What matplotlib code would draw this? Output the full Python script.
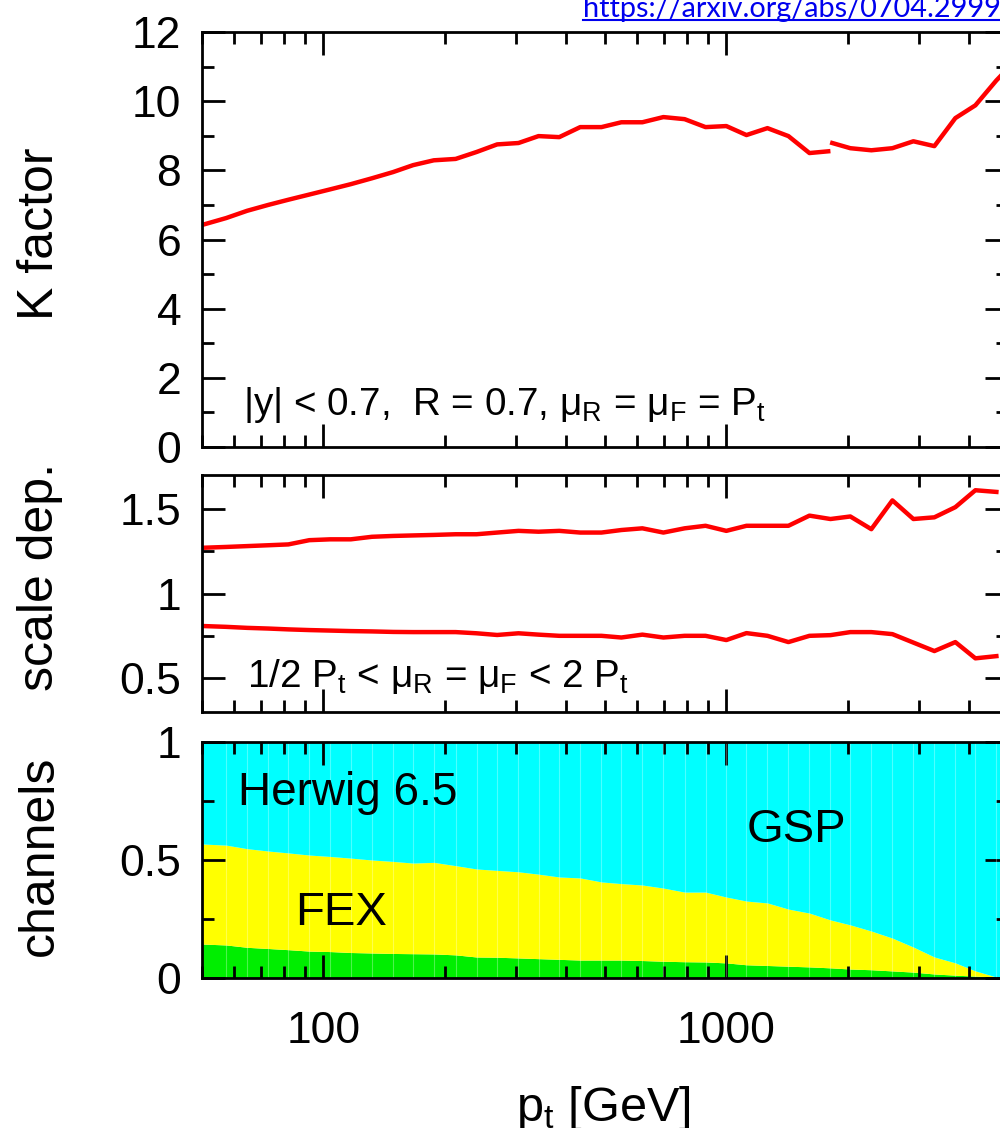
import numpy as np
import matplotlib
matplotlib.use("Agg")
import matplotlib.pyplot as plt
from matplotlib.ticker import FixedLocator, FixedFormatter, LogLocator, NullFormatter
from matplotlib.lines import Line2D

plt.rcParams['font.family'] = ['Liberation Sans', 'DejaVu Sans']
plt.rcParams['mathtext.fontset'] = 'custom'
plt.rcParams['mathtext.rm'] = 'Liberation Sans'
plt.rcParams['mathtext.it'] = 'Liberation Sans'
plt.rcParams['mathtext.sf'] = 'Liberation Sans'

# common pt binning [GeV]
pt = [50, 57.4, 64.7, 73, 81.9, 92.3, 104, 117, 132, 149, 167, 188, 213, 240,
      270, 305, 342, 385, 434, 490, 549, 619, 698, 788, 888, 1000, 1122, 1265,
      1426, 1608, 1813, 2031, 2290, 2583, 2912, 3283, 3701, 4150, 4679]

# K factor (NLO/LO), one missing bin near 1.8 TeV
kfac_pt = [50, 57.4, 64.7, 73, 81.9, 92.3, 104, 117, 132, 149, 167, 188, 213,
           240, 270, 305, 342, 385, 434, 490, 549, 619, 698, 788, 888, 1000,
           1122, 1265, 1426, 1608, 1790, np.nan, 1832, 2031, 2290, 2583, 2912,
           3283, 3701, 4150, 4679, 5000]
kfac = [6.42, 6.62, 6.83, 7.0, 7.15, 7.30, 7.45, 7.60, 7.77, 7.95, 8.15, 8.29,
        8.33, 8.53, 8.75, 8.79, 8.99, 8.96, 9.25, 9.25, 9.39, 9.39, 9.54, 9.48,
        9.25, 9.28, 9.02, 9.22, 8.99, 8.50, 8.55, np.nan, 8.79, 8.64, 8.58,
        8.64, 8.84, 8.70, 9.51, 9.88, 10.6, 10.95]

# scale variation band, 1/2 Pt .. 2 Pt
scale_up = [1.27, 1.275, 1.28, 1.285, 1.29, 1.315, 1.32, 1.32, 1.335, 1.34,
            1.343, 1.346, 1.35, 1.35, 1.36, 1.37, 1.365, 1.37, 1.36, 1.36,
            1.375, 1.385, 1.36, 1.385, 1.40, 1.37, 1.40, 1.40, 1.40, 1.46,
            1.44, 1.455, 1.38, 1.55, 1.44, 1.45, 1.51, 1.61, 1.60]
scale_down = [0.808, 0.803, 0.797, 0.793, 0.788, 0.784, 0.781, 0.778, 0.776,
              0.773, 0.772, 0.772, 0.772, 0.765, 0.755, 0.765, 0.757, 0.75,
              0.75, 0.75, 0.74, 0.757, 0.74, 0.75, 0.75, 0.725, 0.766, 0.75,
              0.713, 0.75, 0.754, 0.772, 0.772, 0.76, 0.71, 0.66, 0.713,
              0.617, 0.63]

# cumulative channel fractions (Herwig 6.5): FCR, FCR+FEX, rest is GSP
frac_fcr = [0.144, 0.14, 0.13, 0.125, 0.12, 0.114, 0.112, 0.108, 0.106, 0.104,
            0.103, 0.102, 0.098, 0.089, 0.088, 0.085, 0.082, 0.079, 0.076,
            0.076, 0.076, 0.074, 0.071, 0.069, 0.068, 0.064, 0.056, 0.053,
            0.05, 0.047, 0.043, 0.038, 0.035, 0.03, 0.025, 0.017, 0.012,
            0.008, 0.004]
frac_fex = [0.568, 0.563, 0.548, 0.538, 0.530, 0.521, 0.515, 0.508, 0.50,
            0.494, 0.487, 0.49, 0.476, 0.462, 0.456, 0.45, 0.44, 0.428, 0.424,
            0.407, 0.40, 0.394, 0.381, 0.364, 0.364, 0.343, 0.326, 0.318,
            0.292, 0.275, 0.246, 0.225, 0.199, 0.169, 0.131, 0.089, 0.064,
            0.030, 0.004]

k_ticks = [0, 2, 4, 6, 8, 10, 12]
k_labels = ['0', '2', '4', '6', '8', '10', '12']
s_ticks = [0.5, 1.0, 1.5]
s_labels = ['0.5', '1', '1.5']
c_ticks = [0, 0.5, 1]
c_labels = ['0', '0.5', '1']
x_ticks = [100, 1000]
x_labels = ['100', '1000']

RED = '#ff0000'
CYAN = '#00ffff'
YELLOW = '#ffff00'
GREEN = '#00ee00'
FS = 32
LW = 3.2

W, H = 1000, 1128
fig = plt.figure(figsize=(W / 100, H / 100), dpi=100)


def px_axes(top, bottom, left=202, right=1008):
    return fig.add_axes([left / W, (H - bottom) / H, (right - left) / W, (bottom - top) / H])


def style(ax, ylim, yticks, ylabels, yminor, xlabels=False):
    ax.set_xscale('log')
    ax.set_xlim(50, 5000)
    ax.set_ylim(*ylim)
    ax.xaxis.set_major_locator(FixedLocator(x_ticks))
    ax.xaxis.set_minor_locator(LogLocator(base=10, subs=np.arange(2, 10)))
    ax.xaxis.set_minor_formatter(NullFormatter())
    if xlabels:
        ax.xaxis.set_major_formatter(FixedFormatter(x_labels))
    else:
        ax.xaxis.set_major_formatter(NullFormatter())
    ax.yaxis.set_major_locator(FixedLocator(yticks))
    ax.yaxis.set_major_formatter(FixedFormatter(ylabels))
    ax.yaxis.set_minor_locator(FixedLocator(yminor))
    ax.tick_params(which='both', direction='in', top=True, right=True, width=2,
                   labelsize=FS, color='black')
    ax.tick_params(which='major', length=16.5)
    ax.tick_params(which='minor', length=8.5)
    ax.tick_params(axis='y', pad=15)
    ax.tick_params(axis='x', pad=24)
    for sp in ax.spines.values():
        sp.set_linewidth(2)


# K factor
ax1 = px_axes(32, 447)
ax1.plot(kfac_pt, kfac, color=RED, lw=LW)
style(ax1, (0, 12), k_ticks, k_labels, [1, 3, 5, 7, 9, 11])
ax1.text(0.051, 0.077, r'|y| < 0.7,  R = 0.7, μ$_\mathregular{R}$ = μ$_\mathregular{F}$ = P$_\mathregular{t}$',
         transform=ax1.transAxes, fontsize=27.8, va='baseline', ha='left')

# scale dependence
ax2 = px_axes(475, 712)
ax2.plot(pt, scale_up, color=RED, lw=LW)
ax2.plot(pt, scale_down, color=RED, lw=LW)
style(ax2, (0.3, 1.7), s_ticks, s_labels, [0.75, 1.25])
ax2.text(0.056, 0.105, r'1/2 P$_\mathregular{t}$ < μ$_\mathregular{R}$ = μ$_\mathregular{F}$ < 2 P$_\mathregular{t}$',
         transform=ax2.transAxes, fontsize=27.8, va='baseline', ha='left')

# production channels
ax3 = px_axes(742, 978)
ax3.fill_between(pt, 0, frac_fcr, color=GREEN, lw=0)
ax3.fill_between(pt, frac_fcr, frac_fex, color=YELLOW, lw=0)
ax3.fill_between(pt, frac_fex, 1, color=CYAN, lw=0)
ax3.fill_between([pt[-1], 5000], 0, 1, color=CYAN, lw=0)
for x in pt[1:]:
    ax3.axvline(x, color='white', lw=0.8, alpha=0.3)
style(ax3, (0, 1), c_ticks, c_labels, [0.25, 0.75], xlabels=True)
ax3.text(0.045, 0.733, 'Herwig 6.5', transform=ax3.transAxes, fontsize=33,
         va='baseline', ha='left')
ax3.text(0.115, 0.225, 'FEX', transform=ax3.transAxes, fontsize=34,
         va='baseline', ha='left')
ax3.text(0.676, 0.576, 'GSP', transform=ax3.transAxes, fontsize=34,
         va='baseline', ha='left')

# axis titles
for label, yc in [('K factor', 234), ('scale dep.', 577), ('channels', 856)]:
    fig.text(53 / W, (H - yc) / H, label, rotation=90, rotation_mode='anchor',
             ha='center', va='baseline', fontsize=36)
fig.text(603 / W, (H - 1121) / H, r'p$_\mathregular{t}$ [GeV]', fontsize=35,
         ha='center', va='baseline')

# source link
link = fig.text(583 / W, (H - 17) / H, 'https://arxiv.org/abs/0704.2999',
                fontsize=20.8, color='#0000ee', family='Lato',
                ha='left', va='baseline')
fig.canvas.draw()
bb = link.get_window_extent()
fig.add_artist(Line2D([bb.x0 / W, bb.x1 / W], [(H - 20) / H] * 2,
                      color='#0000ee', lw=1.5, transform=fig.transFigure))

fig.savefig('out.png', dpi=100)
